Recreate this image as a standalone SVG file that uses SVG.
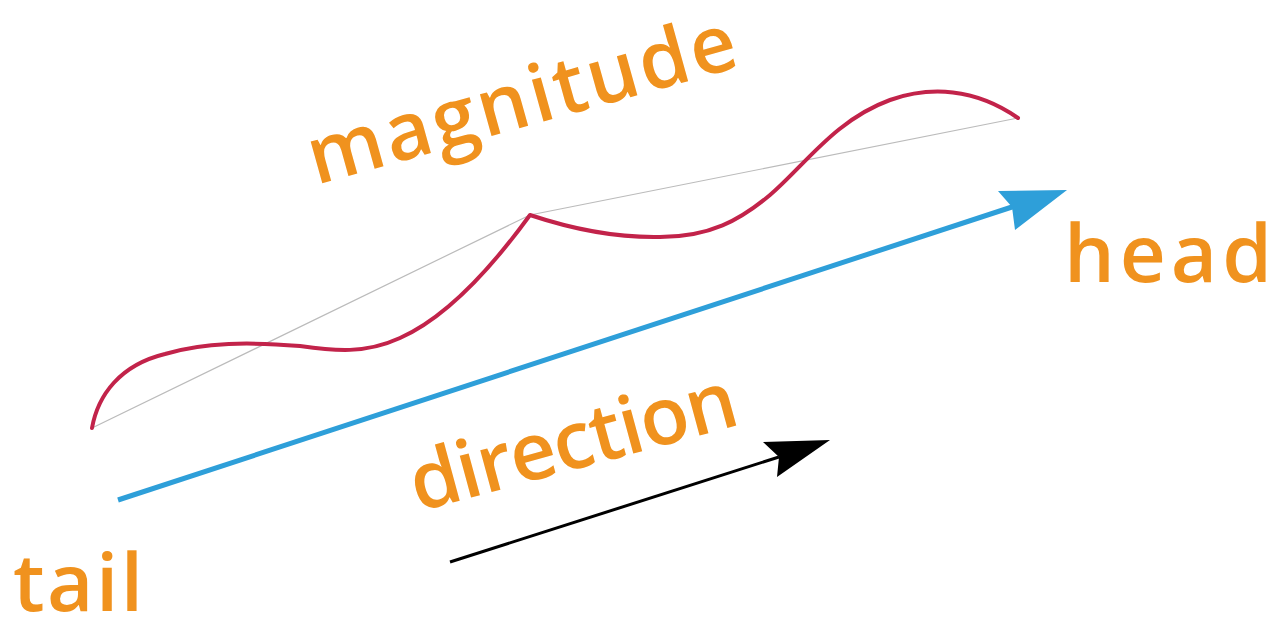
<svg xmlns="http://www.w3.org/2000/svg" width="1280" height="620" viewBox="0 0 1280 620">
  <style>
    .lbl { font-family: "Open Sans", Lato, "Liberation Sans", sans-serif; font-weight: 600; font-size: 80px; fill: #F0921E; }
    .guide { fill: none; stroke: #BBBBBB; stroke-width: 1.2; }
    .wave { fill: none; stroke: #C2234A; stroke-width: 4; stroke-linecap: round; stroke-linejoin: round; }
  </style>
  <rect width="1280" height="620" fill="#FFFFFF"/>

  <g id="magnitude-label">
    <text class="lbl" transform="translate(316,185) rotate(-15.6)" textLength="442" lengthAdjust="spacing">magnitude</text>
  </g>

  <g id="path">
    <polyline class="guide" points="92,428 530,215 1018,118"/>
    <path class="wave" d="M92,428 C98,395 120,365 165,354 C205,342 250,342 300,346 C335,351 365,354 400,338 C445,318 490,270 530,215 C560,225 610,238 660,237 C710,237 740,220 770,195 C805,165 835,120 890,100 C930,86 975,88 1018,118"/>
  </g>

  <g id="connectors">
    <g id="vector-arrow">
      <line x1="118" y1="500" x2="1015" y2="206" stroke="#2E9FD9" stroke-width="5"/>
      <polygon points="998,191 1067,190 1015,230 1012,207" fill="#2E9FD9"/>
    </g>
    <g id="direction-arrow">
      <line x1="450" y1="562" x2="779" y2="457" stroke="#000000" stroke-width="3"/>
      <polygon points="763,442 830,440 777,477 779,457" fill="#000000"/>
    </g>
  </g>

  <g id="head-label">
    <text class="lbl" x="1064" y="282" textLength="208" lengthAdjust="spacing">head</text>
  </g>

  <g id="direction-label">
    <text class="lbl" transform="translate(418,512) rotate(-15.2)" textLength="336" lengthAdjust="spacing">direction</text>
  </g>

  <g id="tail-label">
    <text class="lbl" x="13" y="611" textLength="130" lengthAdjust="spacing">tail</text>
  </g>
</svg>
